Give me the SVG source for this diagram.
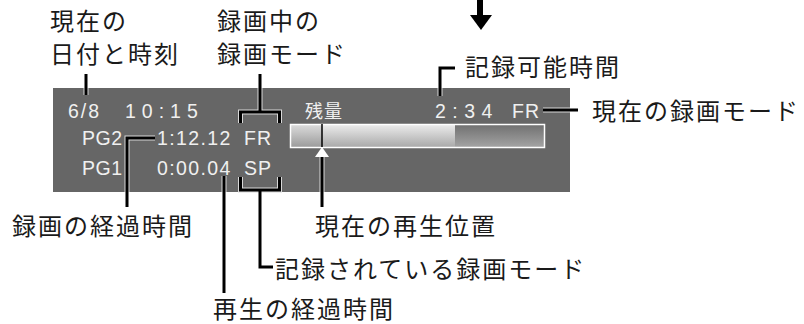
<svg xmlns="http://www.w3.org/2000/svg" width="804" height="324" viewBox="0 0 804 324">
  <defs>
    <style>
      .lbl { font-family: "Noto Sans CJK JP", "Noto Sans", sans-serif; font-size: 24px; fill: #1a1a1a; letter-spacing: 2px; }
      .scr { font-family: "Liberation Sans", "Noto Sans CJK JP", sans-serif; font-size: 19.5px; fill: #f0f0f0; }
      .scrj { font-family: "Noto Sans CJK JP", sans-serif; font-size: 18px; fill: #f0f0f0; }
      .ld { fill: none; stroke: #000; stroke-width: 3; stroke-linecap: butt; stroke-linejoin: miter; }
      .halo { fill: none; stroke: #d8d8d8; stroke-width: 5; stroke-linejoin: miter; }
    </style>
    <linearGradient id="gLight" x1="0" y1="0" x2="0" y2="1">
      <stop offset="0" stop-color="#ececec"/>
      <stop offset="1" stop-color="#a8a8a8"/>
    </linearGradient>
    <linearGradient id="gLeft" x1="0" y1="0" x2="0" y2="1">
      <stop offset="0" stop-color="#dcdcdc"/>
      <stop offset="1" stop-color="#9a9a9a"/>
    </linearGradient>
    <linearGradient id="gDark" x1="0" y1="0" x2="0" y2="1">
      <stop offset="0" stop-color="#707070"/>
      <stop offset="1" stop-color="#a4a4a4"/>
    </linearGradient>
  </defs>

  <g id="top-arrow">
    <rect x="477" y="0" width="6" height="16" fill="#000"/>
    <polygon points="470,15 492,15 481,30" fill="#000"/>
  </g>

  <g id="panel">
    <rect x="53" y="88" width="517" height="104" fill="#666666"/>
    <text class="scr" x="68" y="118" letter-spacing="2">6/8</text>
    <text class="scr" x="125" y="118" letter-spacing="6">10:15</text>
    <text class="scrj" x="305" y="118" letter-spacing="1">残量</text>
    <text class="scr" x="435" y="118" letter-spacing="6.5">2:34</text>
    <text class="scr" x="512" y="118" letter-spacing="1">FR</text>
    <text class="scr" x="82" y="145" letter-spacing="0.5">PG2</text>
    <text class="scr" x="157" y="145" letter-spacing="1.4">1:12.12</text>
    <text class="scr" x="244" y="145" letter-spacing="1">FR</text>
    <text class="scr" x="82" y="175" letter-spacing="0.5">PG1</text>
    <text class="scr" x="157" y="175" letter-spacing="1.4">0:00.04</text>
    <text class="scr" x="244" y="175" letter-spacing="1">SP</text>
  </g>

  <g id="progress-bar">
    <rect x="290.5" y="124.5" width="254" height="23" fill="url(#gDark)" stroke="none"/>
    <rect x="290.5" y="124.5" width="164.5" height="23" fill="url(#gLight)"/>
    <rect x="290.5" y="124.5" width="31.5" height="23" fill="url(#gLeft)"/>
    <rect x="290.5" y="124.5" width="254" height="23" fill="none" stroke="#ffffff" stroke-width="1.5"/>
    <line x1="322" y1="124" x2="322" y2="147" stroke="#000" stroke-width="1.5"/>
    <polygon points="322,147 329,157 315,157" fill="#ffffff"/>
  </g>

  <g id="connectors">
    <path class="halo" d="M86 88 V95 M260 88 V112 M240.5 123 V112 H279.5 V123 M127 192 V138 H155 M224 176 V192 M240.5 177 V190 H279.5 V177 M260 190 V192 M440 88 V96 M543 110 H570 M322 157 V192"/>
    <path class="ld" d="M86 74 V95"/>
    <path class="ld" d="M260 74 V112 M240.5 123 V112 H279.5 V123"/>
    <path class="ld" d="M455 68 H440 V96"/>
    <path class="ld" d="M543 110 H578"/>
    <path class="ld" d="M155 138 H127 V207"/>
    <path class="ld" d="M224 176 V293"/>
    <path class="ld" d="M240.5 177 V190 H279.5 V177 M260 190 V267 H273"/>
    <path class="ld" d="M322 157 V207"/>
  </g>

  <g id="label-date">
    <text class="lbl" x="50" y="30">現在の</text>
    <text class="lbl" x="50" y="63">日付と時刻</text>
  </g>
  <g id="label-recmode">
    <text class="lbl" x="217" y="30">録画中の</text>
    <text class="lbl" x="217" y="63">録画モード</text>
  </g>
  <g id="label-remaining">
    <text class="lbl" x="465" y="76">記録可能時間</text>
  </g>
  <g id="label-current-mode">
    <text class="lbl" x="592" y="120">現在の録画モード</text>
  </g>
  <g id="label-rec-elapsed">
    <text class="lbl" x="12" y="235">録画の経過時間</text>
  </g>
  <g id="label-play-pos">
    <text class="lbl" x="315" y="235">現在の再生位置</text>
  </g>
  <g id="label-recorded-mode">
    <text class="lbl" x="275" y="278" letter-spacing="2.7">記録されている録画モード</text>
  </g>
  <g id="label-play-elapsed">
    <text class="lbl" x="213" y="318">再生の経過時間</text>
  </g>
</svg>
